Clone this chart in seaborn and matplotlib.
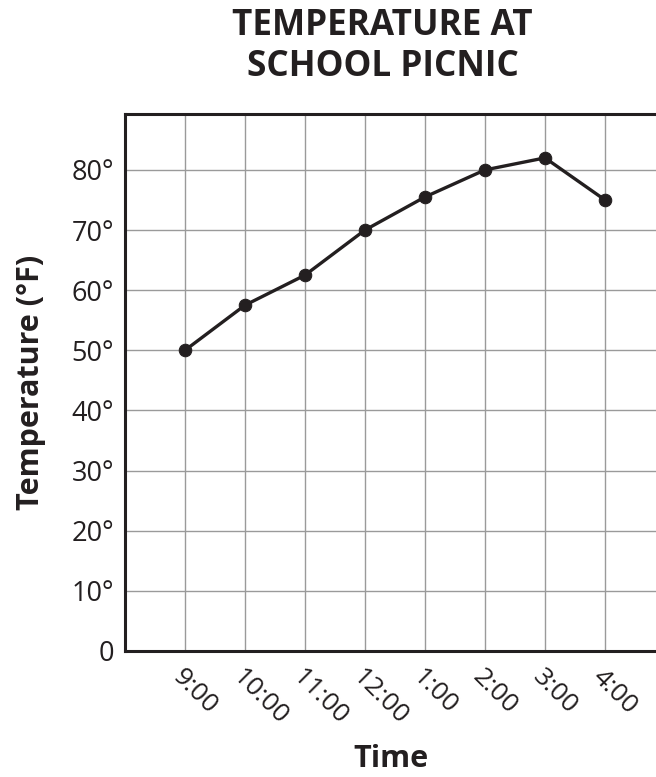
import matplotlib
matplotlib.use("Agg")
import matplotlib.pyplot as plt
import pandas as pd
import seaborn as sns

# Data
times = ["9:00", "10:00", "11:00", "12:00", "1:00", "2:00", "3:00", "4:00"]
temps = [50, 57.5, 62.5, 70, 75.5, 80, 82, 75]
y_ticks = [0, 10, 20, 30, 40, 50, 60, 70, 80]
y_labels = ["0"] + [f"{v}\u00b0" for v in y_ticks[1:]]

df = pd.DataFrame({"pos": range(len(times)), "temp": temps})

sns.set_theme(style="white")
plt.rcParams["font.family"] = ["Open Sans", "DejaVu Sans"]

ink = "#231f20"
fig = plt.figure(figsize=(6.56, 7.77), dpi=100)
ax = fig.add_axes([0.1905, 0.1622, 0.8095, 0.6911])

sns.lineplot(data=df, x="pos", y="temp", ax=ax, color=ink, linewidth=2.4,
             marker="o", markersize=9, markeredgecolor=ink, zorder=3)

ax.set_xlim(-1, 7.85)
ax.set_ylim(0, 89.3)
ax.set_xticks(range(len(times)))
ax.set_xticklabels(times, rotation=-45, ha="left", va="top",
                   rotation_mode="anchor", fontsize=19, color=ink)
ax.set_yticks(y_ticks)
ax.set_yticklabels(y_labels, fontsize=19.5, color=ink)
ax.tick_params(length=0, pad=8)
ax.tick_params(axis="x", pad=10)

ax.grid(True, color="#9a9a9a", linewidth=1.0)
ax.set_axisbelow(True)
for side in ["left", "bottom", "top"]:
    ax.spines[side].set_visible(True)
    ax.spines[side].set_color(ink)
    ax.spines[side].set_linewidth(2.2)
ax.spines["right"].set_visible(False)

ax.set_xlabel("Time", fontsize=22, fontweight="bold", color=ink, labelpad=10)
ax.set_ylabel("Temperature (\u00b0F)", fontsize=22, fontweight="bold", color=ink, labelpad=18)

fig.text(0.583, 0.99, "TEMPERATURE AT\nSCHOOL PICNIC", ha="center", va="top",
         fontsize=25.3, fontweight="bold", color=ink, linespacing=1.2)

fig.savefig("out.png", dpi=100)
